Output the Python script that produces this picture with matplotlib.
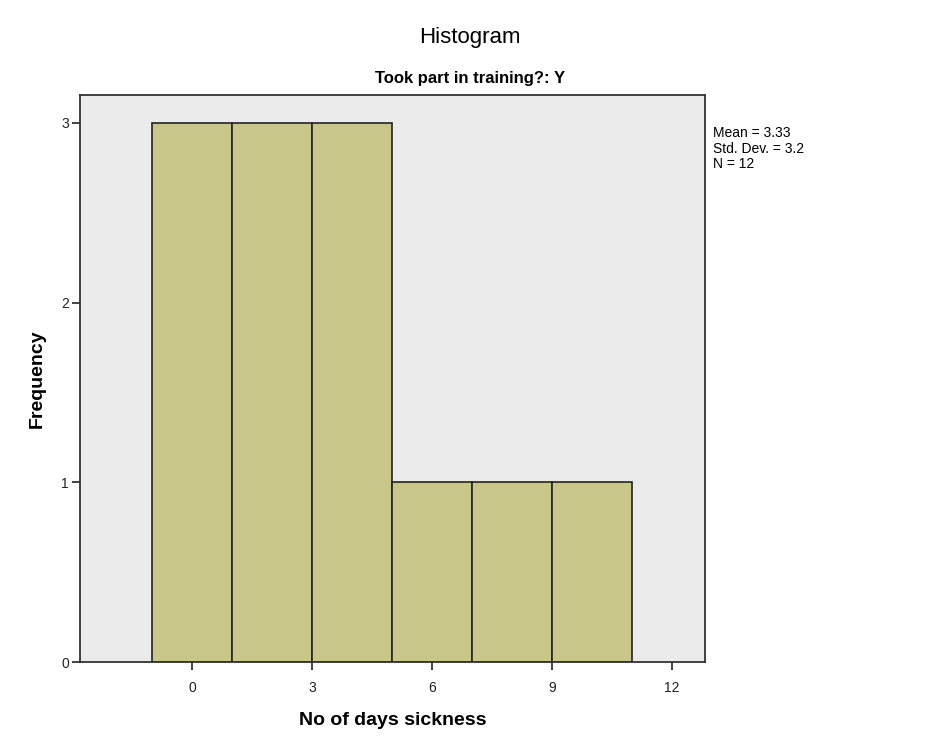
import matplotlib
matplotlib.use("Agg")
import matplotlib.pyplot as plt

# histogram bins (No of days sickness) and counts
bin_edges = [-1, 1, 3, 5, 7, 9, 11]
counts = [3, 3, 3, 1, 1, 1]
x_ticks = [0, 3, 6, 9, 12]
y_ticks = [0, 1, 2, 3]
stats_lines = ["Mean = 3.33", "Std. Dev. = 3.2", "N = 12"]

plt.rcParams["font.family"] = ["Liberation Sans", "DejaVu Sans"]

fig = plt.figure(figsize=(9.41, 7.54), dpi=100)
ax = fig.add_axes([80 / 941, 92 / 754, 625 / 941, 567 / 754])
ax.set_facecolor("#ebebeb")

widths = [b - a for a, b in zip(bin_edges[:-1], bin_edges[1:])]
ax.bar(bin_edges[:-1], counts, width=widths, align="edge",
       color="#c8c688", edgecolor="#222222", linewidth=1.2)

ax.set_xlim(-2.8, 12.825)
ax.set_ylim(0, 3.155)
ax.set_xticks(x_ticks)
ax.set_yticks(y_ticks)
ax.tick_params(direction="out", length=6, width=1.2, labelsize=10, colors="#222222")
ax.tick_params(axis="x", pad=8)
ax.tick_params(axis="y", pad=2)
for s in ax.spines.values():
    s.set_linewidth(1.3)
    s.set_color("#333333")

ax.set_xlabel("No of days sickness", fontsize=14, fontweight="bold", labelpad=12)
ax.set_ylabel("Frequency", fontsize=14, fontweight="bold", labelpad=11)

fig.text(470 / 941, 1 - 37 / 754, "Histogram", ha="center", va="center", fontsize=16)
fig.text(470 / 941, 1 - 78 / 754, "Took part in training?: Y", ha="center", va="center",
         fontsize=12, fontweight="bold")
fig.text(713 / 941, 1 - 126 / 754, "\n".join(stats_lines), ha="left", va="top",
         fontsize=10, linespacing=1.15)

fig.savefig("out.png", dpi=100)
